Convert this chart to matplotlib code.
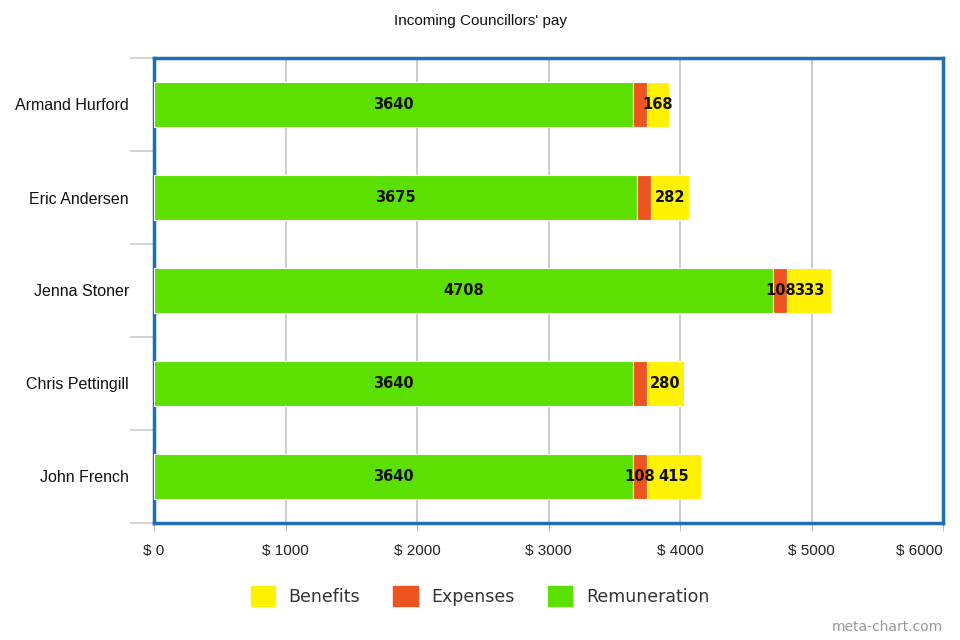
import numpy as np
import matplotlib.pyplot as plt
from matplotlib.patches import Patch

# Data
names = ['Armand Hurford', 'Eric Andersen', 'Jenna Stoner', 'Chris Pettingill', 'John French']
remuneration = [3640, 3675, 4708, 3640, 3640]
expenses = [108, 108, 108, 108, 108]
benefits = [168, 282, 333, 280, 415]
# which expense labels are shown on the original chart
show_expense_label = [False, False, True, False, True]

green = '#5ce000'
orange = '#ee5420'
yellow = '#fff200'
frame_blue = '#1f6fb4'

fig = plt.figure(figsize=(9.6, 6.4), dpi=100)
ax = fig.add_axes([154 / 960, 1 - 523 / 640, 789 / 960, 465 / 640])

y = np.arange(len(names))
rem = np.array(remuneration)
exp = np.array(expenses)
ben = np.array(benefits)

ax.barh(y, rem, height=0.49, color=green, edgecolor='white', linewidth=0.8, zorder=3)
ax.barh(y, exp, left=rem, height=0.49, color=orange, edgecolor='white', linewidth=0.8, zorder=3)
ax.barh(y, ben, left=rem + exp, height=0.49, color=yellow, edgecolor='white', linewidth=0.8, zorder=3)

lab_font = dict(fontsize=10.5, fontweight='bold', color='#111111', ha='center', va='center',
                family='DejaVu Sans', zorder=5)
for i in range(len(names)):
    ax.text(rem[i] / 2, y[i], str(rem[i]), **lab_font)
    if show_expense_label[i]:
        ax.text(rem[i] + exp[i] / 2, y[i], str(exp[i]), **lab_font)
    ax.text(rem[i] + exp[i] + ben[i] / 2, y[i], str(ben[i]), **lab_font)

ax.set_xlim(0, 6000)
ax.set_ylim(len(names) - 0.5, -0.5)
xt = np.arange(0, 7000, 1000)
ax.set_xticks(xt)
ax.set_xticklabels([f'$ {v}' for v in xt], fontsize=11, family='Liberation Sans', color='#222222')
ax.get_xticklabels()[-1].set_ha('right')
ax.tick_params(axis='x', length=6, color='#bbbbbb', pad=9)
ax.grid(axis='x', color='#c4c4c4', linewidth=1.2, zorder=0)

ax.set_yticks(y)
ax.set_yticklabels(names, fontsize=11.5, family='Liberation Sans', color='#111111')
ax.set_yticks(np.arange(-0.5, len(names), 1), minor=True)
ax.tick_params(axis='y', which='major', length=0, pad=18)
ax.tick_params(axis='y', which='minor', length=17, color='#cccccc', width=1.2)

for s in ax.spines.values():
    s.set_color(frame_blue)
    s.set_linewidth(2.5)

fig.text(0.5, 1 - 21 / 640, "Incoming Councillors' pay", ha='center', va='center',
         fontsize=11, family='Liberation Sans', color='#111111')

handles = [Patch(color=yellow), Patch(color=orange), Patch(color=green)]
fig.legend(handles, ['Benefits', 'Expenses', 'Remuneration'], loc='center',
           bbox_to_anchor=(0.5, 1 - 596 / 640), ncol=3, frameon=False,
           prop={'family': 'DejaVu Sans', 'size': 12.5}, handlelength=1.4, handleheight=1.4,
           columnspacing=1.9, handletextpad=0.8, labelcolor='#333333')

fig.text(943 / 960, 1 - 627 / 640, 'meta-chart.com', ha='right', va='center',
         fontsize=10, family='DejaVu Sans', color='#999999')

fig.savefig('out.png', dpi=100, facecolor='white')
